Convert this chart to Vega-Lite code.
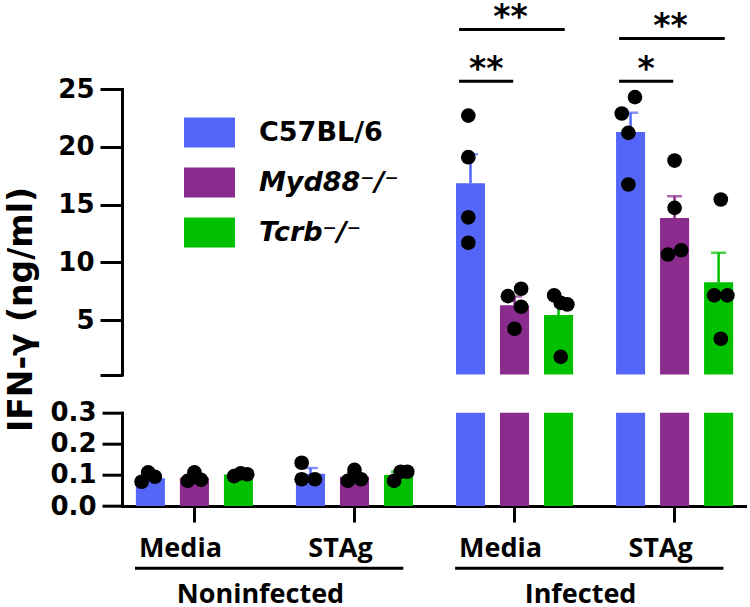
{
  "$schema": "https://vega.github.io/schema/vega-lite/v6.json",
  "background": "white",
  "padding": {"left": 5, "top": 2, "right": 0, "bottom": 0},
  "bounds": "flush",
  "spacing": 37.7,
  "datasets": {
    "bars": [
      {"grp": "Noninfected|Media", "geno": "C57BL/6", "mean": 0.089, "hi": 0.098},
      {"grp": "Noninfected|Media", "geno": "Myd88⁻/⁻", "mean": 0.091, "hi": 0.1},
      {"grp": "Noninfected|Media", "geno": "Tcrb⁻/⁻", "mean": 0.101, "hi": 0.104},
      {"grp": "Noninfected|STAg", "geno": "C57BL/6", "mean": 0.104, "hi": 0.122},
      {"grp": "Noninfected|STAg", "geno": "Myd88⁻/⁻", "mean": 0.094, "hi": 0.105},
      {"grp": "Noninfected|STAg", "geno": "Tcrb⁻/⁻", "mean": 0.1, "hi": 0.11},
      {"grp": "Infected|Media", "geno": "C57BL/6", "mean": 16.85, "hi": 19.35},
      {"grp": "Infected|Media", "geno": "Myd88⁻/⁻", "mean": 6.3, "hi": 7.05},
      {"grp": "Infected|Media", "geno": "Tcrb⁻/⁻", "mean": 5.45, "hi": 6.67},
      {"grp": "Infected|STAg", "geno": "C57BL/6", "mean": 21.28, "hi": 22.94},
      {"grp": "Infected|STAg", "geno": "Myd88⁻/⁻", "mean": 13.85, "hi": 15.73},
      {"grp": "Infected|STAg", "geno": "Tcrb⁻/⁻", "mean": 8.28, "hi": 10.83}
    ],
    "pts": [
      {"grp": "Noninfected|Media", "geno": "C57BL/6", "slot": "C57BL/6 L", "val": 0.078},
      {"grp": "Noninfected|Media", "geno": "C57BL/6", "slot": "C57BL/6 C", "val": 0.108},
      {"grp": "Noninfected|Media", "geno": "C57BL/6", "slot": "C57BL/6 R", "val": 0.094},
      {"grp": "Noninfected|Media", "geno": "Myd88⁻/⁻", "slot": "Myd88 L", "val": 0.081},
      {"grp": "Noninfected|Media", "geno": "Myd88⁻/⁻", "slot": "Myd88 C", "val": 0.108},
      {"grp": "Noninfected|Media", "geno": "Myd88⁻/⁻", "slot": "Myd88 R", "val": 0.084},
      {"grp": "Noninfected|Media", "geno": "Tcrb⁻/⁻", "slot": "Tcrb L", "val": 0.096},
      {"grp": "Noninfected|Media", "geno": "Tcrb⁻/⁻", "slot": "Tcrb C", "val": 0.105},
      {"grp": "Noninfected|Media", "geno": "Tcrb⁻/⁻", "slot": "Tcrb R", "val": 0.102},
      {"grp": "Noninfected|STAg", "geno": "C57BL/6", "slot": "C57BL/6 L", "val": 0.139},
      {"grp": "Noninfected|STAg", "geno": "C57BL/6", "slot": "C57BL/6 L", "val": 0.086},
      {"grp": "Noninfected|STAg", "geno": "C57BL/6", "slot": "C57BL/6 R", "val": 0.086},
      {"grp": "Noninfected|STAg", "geno": "Myd88⁻/⁻", "slot": "Myd88 L", "val": 0.081},
      {"grp": "Noninfected|STAg", "geno": "Myd88⁻/⁻", "slot": "Myd88 C", "val": 0.116},
      {"grp": "Noninfected|STAg", "geno": "Myd88⁻/⁻", "slot": "Myd88 R", "val": 0.086},
      {"grp": "Noninfected|STAg", "geno": "Tcrb⁻/⁻", "slot": "Tcrb L", "val": 0.081},
      {"grp": "Noninfected|STAg", "geno": "Tcrb⁻/⁻", "slot": "Tcrb C", "val": 0.11},
      {"grp": "Noninfected|STAg", "geno": "Tcrb⁻/⁻", "slot": "Tcrb R", "val": 0.11},
      {"grp": "Infected|Media", "geno": "C57BL/6", "slot": "C57BL/6 C", "val": 22.7},
      {"grp": "Infected|Media", "geno": "C57BL/6", "slot": "C57BL/6 C", "val": 19.1},
      {"grp": "Infected|Media", "geno": "C57BL/6", "slot": "C57BL/6 C", "val": 13.9},
      {"grp": "Infected|Media", "geno": "C57BL/6", "slot": "C57BL/6 C", "val": 11.7},
      {"grp": "Infected|Media", "geno": "Myd88⁻/⁻", "slot": "Myd88 L", "val": 7.08},
      {"grp": "Infected|Media", "geno": "Myd88⁻/⁻", "slot": "Myd88 R", "val": 7.72},
      {"grp": "Infected|Media", "geno": "Myd88⁻/⁻", "slot": "Myd88 R", "val": 6.16},
      {"grp": "Infected|Media", "geno": "Myd88⁻/⁻", "slot": "Myd88 C", "val": 4.26},
      {"grp": "Infected|Media", "geno": "Tcrb⁻/⁻", "slot": "Tcrb L", "val": 7.14},
      {"grp": "Infected|Media", "geno": "Tcrb⁻/⁻", "slot": "Tcrb C", "val": 6.5},
      {"grp": "Infected|Media", "geno": "Tcrb⁻/⁻", "slot": "Tcrb R", "val": 6.36},
      {"grp": "Infected|Media", "geno": "Tcrb⁻/⁻", "slot": "Tcrb C", "val": 1.83},
      {"grp": "Infected|STAg", "geno": "C57BL/6", "slot": "C57BL/6 R", "val": 24.3},
      {"grp": "Infected|STAg", "geno": "C57BL/6", "slot": "C57BL/6 L", "val": 22.88},
      {"grp": "Infected|STAg", "geno": "C57BL/6", "slot": "C57BL/6 C", "val": 21.2},
      {"grp": "Infected|STAg", "geno": "C57BL/6", "slot": "C57BL/6 C", "val": 16.74},
      {"grp": "Infected|STAg", "geno": "Myd88⁻/⁻", "slot": "Myd88 C", "val": 18.81},
      {"grp": "Infected|STAg", "geno": "Myd88⁻/⁻", "slot": "Myd88 C", "val": 14.72},
      {"grp": "Infected|STAg", "geno": "Myd88⁻/⁻", "slot": "Myd88 L", "val": 10.68},
      {"grp": "Infected|STAg", "geno": "Myd88⁻/⁻", "slot": "Myd88 R", "val": 11.05},
      {"grp": "Infected|STAg", "geno": "Tcrb⁻/⁻", "slot": "Tcrb C", "val": 15.44},
      {"grp": "Infected|STAg", "geno": "Tcrb⁻/⁻", "slot": "Tcrb L", "val": 7.14},
      {"grp": "Infected|STAg", "geno": "Tcrb⁻/⁻", "slot": "Tcrb R", "val": 7.14},
      {"grp": "Infected|STAg", "geno": "Tcrb⁻/⁻", "slot": "Tcrb C", "val": 3.39}
    ],
    "sig": [
      {"grp": "Infected|Media", "lvl": "low", "y": 25.67, "label": "**"},
      {"grp": "Infected|Media", "lvl": "high", "y": 30.15, "label": "**"},
      {"grp": "Infected|STAg", "lvl": "low", "y": 25.67, "label": "*"},
      {"grp": "Infected|STAg", "lvl": "high", "y": 29.37, "label": "**"}
    ],
    "conds": [
      {"cond": "Noninfected", "g1": "Noninfected|Media", "g2": "Noninfected|STAg"},
      {"cond": "Infected", "g1": "Infected|Media", "g2": "Infected|STAg"}
    ]
  },
  "config": {
    "font": "DejaVu Sans",
    "view": {"stroke": null},
    "axis": {
      "domainColor": "black", "domainWidth": 3, "domainCap": "square",
      "tickColor": "black", "tickWidth": 3, "tickSize": 22,
      "labelFont": "DejaVu Sans", "labelFontWeight": "bold", "labelFontSize": 26, "labelColor": "black",
      "labelPadding": 6, "grid": false, "labelOverlap": false,
      "titleFont": "DejaVu Sans", "titleFontWeight": "bold", "titleFontSize": 33, "titleColor": "black"
    }
  },
  "resolve": {"scale": {"x": "independent", "y": "independent", "xOffset": "independent"}},
  "vconcat": [
    {
      "width": 625,
      "height": 285.5,
      "resolve": {"scale": {"xOffset": "independent"}},
      "layer": [
        {
          "data": {"name": "bars"},
          "mark": {"type": "bar", "clip": true},
          "encoding": {
            "x": {"field": "grp", "type": "nominal", "scale": {"domain": ["Noninfected|Media", "Noninfected|STAg", "Infected|Media", "Infected|STAg"], "paddingInner": 0.175, "paddingOuter": 0.04}, "axis": null},
            "xOffset": {"field": "geno", "type": "nominal", "scale": {"domain": ["C57BL/6", "Myd88⁻/⁻", "Tcrb⁻/⁻"], "paddingInner": 0.34, "paddingOuter": 0.17}},
            "y": {"field": "mean", "type": "quantitative", "scale": {"domain": [0.3, 25], "zero": false, "nice": false},
              "axis": {"values": [0.3, 5, 10, 15, 20, 25], "labelExpr": "datum.value < 1 ? '' : datum.label", "title": "IFN-γ (ng/ml)", "titleY": 220, "titlePadding": 19}},
            "color": {"field": "geno", "type": "nominal", "scale": {"domain": ["C57BL/6", "Myd88⁻/⁻", "Tcrb⁻/⁻"], "range": ["#5366F8", "#8A2B8D", "#00C000"]},
              "legend": {"orient": "none", "legendX": 62, "legendY": 18, "title": null, "padding": 0,
                "symbolType": "M-1,-0.588H1V0.588H-1Z", "symbolSize": 2601, "symbolStrokeWidth": 0, "symbolOpacity": 1,
                "labelFont": "DejaVu Sans", "labelFontWeight": "bold", "labelFontSize": 27, "labelColor": "black",
                "labelFontStyle": {"expr": "datum.label == 'C57BL/6' ? 'normal' : 'italic'"},
                "labelOffset": 24, "rowPadding": 9, "labelLimit": 300}}
          }
        },
        {
          "data": {"name": "bars"},
          "mark": {"type": "rule", "clip": true, "strokeWidth": 2.5},
          "encoding": {
            "x": {"field": "grp", "type": "nominal"},
            "xOffset": {"field": "geno", "type": "nominal", "scale": {"domain": ["C57BL/6", "Myd88⁻/⁻", "Tcrb⁻/⁻"], "paddingInner": 0.34, "paddingOuter": 0.17}},
            "y": {"field": "mean", "type": "quantitative"},
            "y2": {"field": "hi"},
            "color": {"field": "geno", "type": "nominal", "legend": null}
          }
        },
        {
          "data": {"name": "bars"},
          "mark": {"type": "tick", "clip": true, "size": 15, "thickness": 2.5},
          "encoding": {
            "x": {"field": "grp", "type": "nominal"},
            "xOffset": {"field": "geno", "type": "nominal", "scale": {"domain": ["C57BL/6", "Myd88⁻/⁻", "Tcrb⁻/⁻"], "paddingInner": 0.34, "paddingOuter": 0.17}},
            "y": {"field": "hi", "type": "quantitative"},
            "color": {"field": "geno", "type": "nominal", "legend": null}
          }
        },
        {
          "data": {"name": "pts"},
          "transform": [{"filter": "datum.val > 0.3"}],
          "mark": {"type": "circle", "size": 215, "color": "black", "opacity": 1},
          "encoding": {
            "x": {"field": "grp", "type": "nominal"},
            "xOffset": {"field": "slot", "type": "nominal", "scale": {"domain": ["C57BL/6 L3", "C57BL/6 L2", "C57BL/6 L", "C57BL/6 C", "C57BL/6 R", "C57BL/6 R2", "C57BL/6 R3", "Myd88 L3", "Myd88 L2", "Myd88 L", "Myd88 C", "Myd88 R", "Myd88 R2", "Myd88 R3", "Tcrb L3", "Tcrb L2", "Tcrb L", "Tcrb C", "Tcrb R", "Tcrb R2", "Tcrb R3"], "paddingInner": 0, "paddingOuter": 0}},
            "y": {"field": "val", "type": "quantitative"}
          }
        },
        {
          "data": {"name": "sig"},
          "transform": [{"filter": "datum.lvl == 'low'"}],
          "layer": [
            {
              "mark": {"type": "rule", "strokeWidth": 3, "color": "black", "clip": false},
              "encoding": {
                "x": {"field": "grp", "type": "nominal", "bandPosition": 0.08},
                "x2": {"field": "grp", "bandPosition": 0.49},
                "y": {"field": "y", "type": "quantitative"}
              }
            },
            {
              "mark": {"type": "text", "font": "DejaVu Sans", "fontWeight": "bold", "fontSize": 33, "baseline": "alphabetic", "align": "center", "dy": -1, "color": "black"},
              "encoding": {
                "x": {"field": "grp", "type": "nominal", "bandPosition": 0.285},
                "y": {"field": "y", "type": "quantitative"},
                "text": {"field": "label"}
              }
            }
          ]
        },
        {
          "data": {"name": "sig"},
          "transform": [{"filter": "datum.lvl == 'high'"}],
          "layer": [
            {
              "mark": {"type": "rule", "strokeWidth": 3, "color": "black", "clip": false},
              "encoding": {
                "x": {"field": "grp", "type": "nominal", "bandPosition": 0.08},
                "x2": {"field": "grp", "bandPosition": 0.88},
                "y": {"field": "y", "type": "quantitative"}
              }
            },
            {
              "mark": {"type": "text", "font": "DejaVu Sans", "fontWeight": "bold", "fontSize": 33, "baseline": "alphabetic", "align": "center", "dy": -1, "color": "black"},
              "encoding": {
                "x": {"field": "grp", "type": "nominal", "bandPosition": 0.47},
                "y": {"field": "y", "type": "quantitative"},
                "text": {"field": "label"}
              }
            }
          ]
        }
      ]
    },
    {
      "width": 625,
      "height": 93.3,
      "resolve": {"scale": {"xOffset": "independent"}},
      "layer": [
        {
          "data": {"name": "bars"},
          "mark": {"type": "bar", "clip": true},
          "encoding": {
            "x": {"field": "grp", "type": "nominal", "scale": {"domain": ["Noninfected|Media", "Noninfected|STAg", "Infected|Media", "Infected|STAg"], "paddingInner": 0.175, "paddingOuter": 0.04},
              "axis": {"title": null, "labelExpr": "split(datum.label, '|')[1]", "labelAngle": 0, "labelFont": "Open Sans", "labelFontSize": 27, "labelOffset": -14, "tickSize": 16, "labelPadding": 13}},
            "xOffset": {"field": "geno", "type": "nominal", "scale": {"domain": ["C57BL/6", "Myd88⁻/⁻", "Tcrb⁻/⁻"], "paddingInner": 0.34, "paddingOuter": 0.17}},
            "y": {"field": "mean", "type": "quantitative", "scale": {"domain": [0, 0.3], "nice": false},
              "axis": {"tickCount": 3, "format": ".1f", "title": null, "tickSize": 20, "labelOverlap": false}},
            "color": {"field": "geno", "type": "nominal", "scale": {"domain": ["C57BL/6", "Myd88⁻/⁻", "Tcrb⁻/⁻"], "range": ["#5366F8", "#8A2B8D", "#00C000"]},
              "legend": {"orient": "none", "legendX": 62, "legendY": 18, "title": null, "padding": 0,
                "symbolType": "M-1,-0.588H1V0.588H-1Z", "symbolSize": 2601, "symbolStrokeWidth": 0, "symbolOpacity": 1,
                "labelFont": "DejaVu Sans", "labelFontWeight": "bold", "labelFontSize": 27, "labelColor": "black",
                "labelFontStyle": {"expr": "datum.label == 'C57BL/6' ? 'normal' : 'italic'"},
                "labelOffset": 24, "rowPadding": 9, "labelLimit": 300}}
          }
        },
        {
          "data": {"name": "bars"},
          "mark": {"type": "rule", "clip": true, "strokeWidth": 2.5},
          "encoding": {
            "x": {"field": "grp", "type": "nominal"},
            "xOffset": {"field": "geno", "type": "nominal", "scale": {"domain": ["C57BL/6", "Myd88⁻/⁻", "Tcrb⁻/⁻"], "paddingInner": 0.34, "paddingOuter": 0.17}},
            "y": {"field": "mean", "type": "quantitative"},
            "y2": {"field": "hi"},
            "color": {"field": "geno", "type": "nominal", "legend": null}
          }
        },
        {
          "data": {"name": "bars"},
          "mark": {"type": "tick", "clip": true, "size": 15, "thickness": 2.5},
          "encoding": {
            "x": {"field": "grp", "type": "nominal"},
            "xOffset": {"field": "geno", "type": "nominal", "scale": {"domain": ["C57BL/6", "Myd88⁻/⁻", "Tcrb⁻/⁻"], "paddingInner": 0.34, "paddingOuter": 0.17}},
            "y": {"field": "hi", "type": "quantitative"},
            "color": {"field": "geno", "type": "nominal", "legend": null}
          }
        },
        {
          "data": {"name": "pts"},
          "transform": [{"filter": "datum.val < 0.3"}],
          "mark": {"type": "circle", "size": 215, "color": "black", "opacity": 1},
          "encoding": {
            "x": {"field": "grp", "type": "nominal"},
            "xOffset": {"field": "slot", "type": "nominal", "scale": {"domain": ["C57BL/6 L3", "C57BL/6 L2", "C57BL/6 L", "C57BL/6 C", "C57BL/6 R", "C57BL/6 R2", "C57BL/6 R3", "Myd88 L3", "Myd88 L2", "Myd88 L", "Myd88 C", "Myd88 R", "Myd88 R2", "Myd88 R3", "Tcrb L3", "Tcrb L2", "Tcrb L", "Tcrb C", "Tcrb R", "Tcrb R2", "Tcrb R3"], "paddingInner": 0, "paddingOuter": 0}},
            "y": {"field": "val", "type": "quantitative"}
          }
        },
        {
          "data": {"name": "conds"},
          "mark": {"type": "rule", "strokeWidth": 3, "color": "black", "clip": false},
          "encoding": {
            "x": {"field": "g1", "type": "nominal", "bandPosition": 0.05},
            "x2": {"field": "g2", "bandPosition": 0.87},
            "y": {"datum": -0.2, "type": "quantitative"}
          }
        },
        {
          "data": {"name": "conds"},
          "mark": {"type": "text", "font": "Open Sans", "fontWeight": "bold", "fontSize": 27, "baseline": "alphabetic", "align": "center", "color": "black", "clip": false},
          "encoding": {
            "x": {"field": "g1", "type": "nominal", "bandPosition": 1.0},
            "y": {"datum": -0.312, "type": "quantitative"},
            "text": {"field": "cond"}
          }
        }
      ]
    }
  ]
}
